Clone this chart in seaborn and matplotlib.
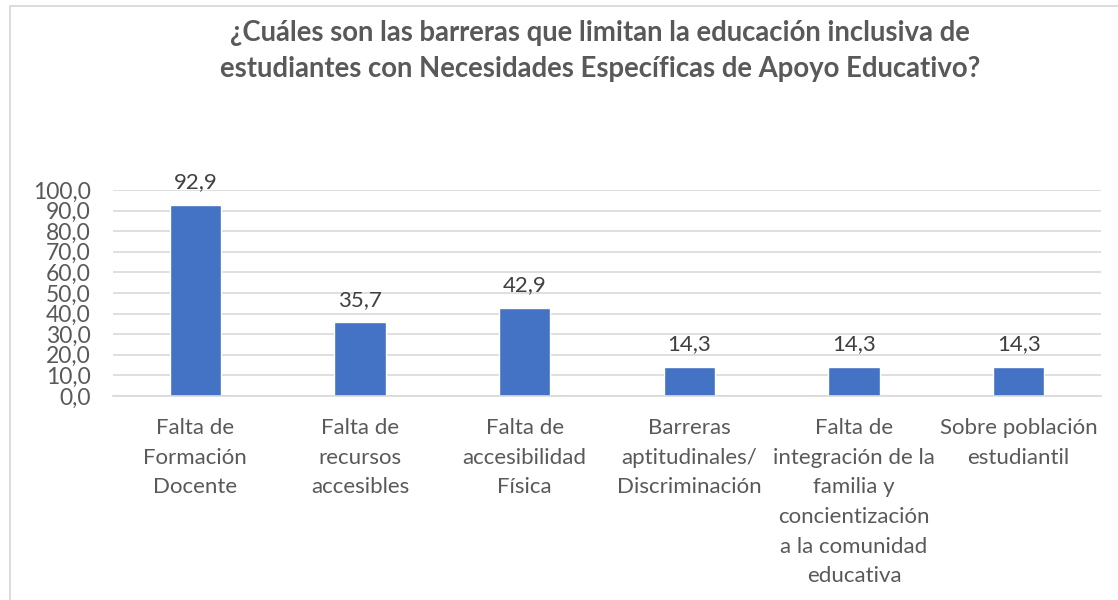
import matplotlib
matplotlib.use("Agg")
import matplotlib.pyplot as plt
import seaborn as sns
from matplotlib.patches import Rectangle

categories = [
    "Falta de\nFormación\nDocente",
    "Falta de\nrecursos\naccesibles",
    "Falta de\naccesibilidad\nFísica",
    "Barreras\naptitudinales/\nDiscriminación",
    "Falta de\nintegración de la\nfamilia y\nconcientización\na la comunidad\neducativa",
    "Sobre población\nestudiantil",
]
values = [92.9, 35.7, 42.9, 14.3, 14.3, 14.3]
yticks = [0, 10, 20, 30, 40, 50, 60, 70, 80, 90, 100]
title = ("¿Cuáles son las barreras que limitan la educación inclusiva de\n"
         "estudiantes con Necesidades Específicas de Apoyo Educativo?")
caption = ("Figura 3. Barreras que limitan la educación inclusiva de estudiantes "
           "con Necesidades Educativas Específicas de Apoyo Educativo")

sns.set_theme(style="white")
plt.rcParams["font.family"] = ["Lato", "DejaVu Sans"]

W, H = 1118, 600
fig = plt.figure(figsize=(W / 100, H / 100), dpi=100)
fig.patch.set_facecolor("white")

# chart frame
fig.patches.append(Rectangle((10 / W, -0.1), 1.2, 1 - 6 / H + 0.1,
                             transform=fig.transFigure, fill=False,
                             edgecolor="#D9D9D9", linewidth=1.3, zorder=0))

# clipped caption at the very top (only descenders visible, as in the source)
fig.text(22 / W, 1 + 4 / H, caption, ha="left", va="baseline",
         fontsize=12, fontweight="bold", family=["Liberation Serif"],
         color="black")

left, right = 113 / W, 1101 / W
bottom, top = 1 - 396 / H, 1 - 190 / H
ax = fig.add_axes([left, bottom, right - left, top - bottom])

text_color = "#595959"
sns.barplot(x=categories, y=values, color="#4472C4", saturation=1,
            width=0.31, ax=ax)

ax.set_ylim(0, 100)
ax.set_yticks(yticks)
ax.set_yticklabels([f"{v:.1f}".replace(".", ",") for v in yticks],
                   fontsize=16.5, color=text_color)
ax.grid(axis="y", color="#D9D9D9", linewidth=1.2)
ax.set_axisbelow(True)
for s in ["top", "right", "left"]:
    ax.spines[s].set_visible(False)
ax.spines["bottom"].set_color("#D9D9D9")
ax.spines["bottom"].set_linewidth(1.2)
ax.tick_params(axis="both", length=0)
ax.tick_params(axis="y", pad=16)
ax.tick_params(axis="x", pad=16)
for lbl in ax.get_xticklabels():
    lbl.set_fontsize(16)
    lbl.set_color(text_color)
    lbl.set_linespacing(1.6)
ax.set_xlabel("")
ax.set_ylabel("")

ax.bar_label(ax.containers[0],
             labels=[f"{v:.1f}".replace(".", ",") for v in values],
             padding=9, fontsize=16, color="#404040")

fig.text(600 / W, 1 - 51 / H, title, ha="center", va="center",
         fontsize=19.8, fontweight="bold", color=text_color, linespacing=1.45)

fig.savefig("out.png", dpi=100, facecolor="white")
